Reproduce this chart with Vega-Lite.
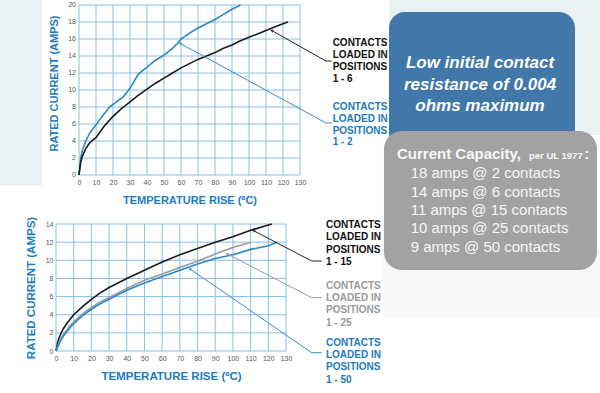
{
  "$schema": "https://vega.github.io/schema/vega-lite/v6.json",
  "width": 600,
  "height": 393,
  "padding": 0,
  "autosize": {"type": "none"},
  "background": "#ffffff",
  "config": {
    "view": {"stroke": null},
    "axis": {
      "ticks": false, "domain": false, "grid": false,
      "labelFontSize": 7, "labelColor": "#555555", "labelFont": "Liberation Sans",
      "labelPadding": 3, "labelOverlap": false, "labelFlush": false,
      "titleFont": "Liberation Sans",
      "titleFontWeight": "bold", "titleColor": "#1b7cc0", "titleFontSize": 11
    },
    "text": {"font": "Liberation Sans"}
  },
  "datasets": {
    "xgrid": [{"v": 0}, {"v": 10}, {"v": 20}, {"v": 30}, {"v": 40}, {"v": 50}, {"v": 60}, {"v": 70}, {"v": 80}, {"v": 90}, {"v": 100}, {"v": 110}, {"v": 120}, {"v": 130}],
    "ygridTop": [{"v": 0}, {"v": 2}, {"v": 4}, {"v": 6}, {"v": 8}, {"v": 10}, {"v": 12}, {"v": 14}, {"v": 16}, {"v": 18}, {"v": 20}],
    "ygridBottom": [{"v": 0}, {"v": 2}, {"v": 4}, {"v": 6}, {"v": 8}, {"v": 10}, {"v": 12}, {"v": 14}],
    "top": [
      {"series": "1 - 2", "t": 0, "amps": 0}, {"series": "1 - 2", "t": 1, "amps": 2.0}, {"series": "1 - 2", "t": 2, "amps": 2.9},
      {"series": "1 - 2", "t": 4, "amps": 4.0}, {"series": "1 - 2", "t": 6, "amps": 4.8}, {"series": "1 - 2", "t": 8, "amps": 5.4},
      {"series": "1 - 2", "t": 10, "amps": 5.9}, {"series": "1 - 2", "t": 14, "amps": 7.0}, {"series": "1 - 2", "t": 18, "amps": 8.0},
      {"series": "1 - 2", "t": 22, "amps": 8.6}, {"series": "1 - 2", "t": 26, "amps": 9.2}, {"series": "1 - 2", "t": 30, "amps": 10.2},
      {"series": "1 - 2", "t": 35, "amps": 11.9}, {"series": "1 - 2", "t": 40, "amps": 12.7}, {"series": "1 - 2", "t": 45, "amps": 13.5},
      {"series": "1 - 2", "t": 50, "amps": 14.1}, {"series": "1 - 2", "t": 55, "amps": 14.9}, {"series": "1 - 2", "t": 58, "amps": 15.5},
      {"series": "1 - 2", "t": 60, "amps": 16.0}, {"series": "1 - 2", "t": 65, "amps": 16.7}, {"series": "1 - 2", "t": 70, "amps": 17.3},
      {"series": "1 - 2", "t": 75, "amps": 17.8}, {"series": "1 - 2", "t": 80, "amps": 18.3}, {"series": "1 - 2", "t": 85, "amps": 18.9},
      {"series": "1 - 2", "t": 90, "amps": 19.5}, {"series": "1 - 2", "t": 95, "amps": 20.0},
      {"series": "1 - 6", "t": 0, "amps": 0}, {"series": "1 - 6", "t": 1, "amps": 1.5}, {"series": "1 - 6", "t": 2, "amps": 2.2},
      {"series": "1 - 6", "t": 4, "amps": 3.1}, {"series": "1 - 6", "t": 6, "amps": 3.7}, {"series": "1 - 6", "t": 8, "amps": 4.1},
      {"series": "1 - 6", "t": 10, "amps": 4.4}, {"series": "1 - 6", "t": 15, "amps": 5.8}, {"series": "1 - 6", "t": 20, "amps": 6.9},
      {"series": "1 - 6", "t": 25, "amps": 7.8}, {"series": "1 - 6", "t": 30, "amps": 8.6}, {"series": "1 - 6", "t": 35, "amps": 9.4},
      {"series": "1 - 6", "t": 40, "amps": 10.1}, {"series": "1 - 6", "t": 45, "amps": 10.8}, {"series": "1 - 6", "t": 50, "amps": 11.4},
      {"series": "1 - 6", "t": 55, "amps": 12.0}, {"series": "1 - 6", "t": 60, "amps": 12.6}, {"series": "1 - 6", "t": 65, "amps": 13.1},
      {"series": "1 - 6", "t": 70, "amps": 13.6}, {"series": "1 - 6", "t": 75, "amps": 14.0}, {"series": "1 - 6", "t": 80, "amps": 14.4},
      {"series": "1 - 6", "t": 85, "amps": 14.9}, {"series": "1 - 6", "t": 90, "amps": 15.3}, {"series": "1 - 6", "t": 95, "amps": 15.8},
      {"series": "1 - 6", "t": 100, "amps": 16.2}, {"series": "1 - 6", "t": 105, "amps": 16.6}, {"series": "1 - 6", "t": 110, "amps": 17.0},
      {"series": "1 - 6", "t": 115, "amps": 17.4}, {"series": "1 - 6", "t": 120, "amps": 17.8}, {"series": "1 - 6", "t": 123, "amps": 18.0}
    ],
    "bottom": [
      {"series": "1 - 15", "t": 0, "amps": 0}, {"series": "1 - 15", "t": 1, "amps": 1.0}, {"series": "1 - 15", "t": 2, "amps": 1.6},
      {"series": "1 - 15", "t": 4, "amps": 2.4}, {"series": "1 - 15", "t": 6, "amps": 3.0}, {"series": "1 - 15", "t": 8, "amps": 3.5},
      {"series": "1 - 15", "t": 10, "amps": 4.0}, {"series": "1 - 15", "t": 15, "amps": 4.9}, {"series": "1 - 15", "t": 20, "amps": 5.7},
      {"series": "1 - 15", "t": 25, "amps": 6.4}, {"series": "1 - 15", "t": 30, "amps": 7.0}, {"series": "1 - 15", "t": 40, "amps": 8.0},
      {"series": "1 - 15", "t": 50, "amps": 8.9}, {"series": "1 - 15", "t": 60, "amps": 9.8}, {"series": "1 - 15", "t": 70, "amps": 10.6},
      {"series": "1 - 15", "t": 80, "amps": 11.3}, {"series": "1 - 15", "t": 90, "amps": 12.0}, {"series": "1 - 15", "t": 100, "amps": 12.6},
      {"series": "1 - 15", "t": 110, "amps": 13.3}, {"series": "1 - 15", "t": 120, "amps": 13.9}, {"series": "1 - 15", "t": 122, "amps": 14.0},
      {"series": "1 - 25", "t": 0, "amps": 0}, {"series": "1 - 25", "t": 2, "amps": 1.1}, {"series": "1 - 25", "t": 4, "amps": 1.8},
      {"series": "1 - 25", "t": 6, "amps": 2.3}, {"series": "1 - 25", "t": 8, "amps": 2.8}, {"series": "1 - 25", "t": 10, "amps": 3.2},
      {"series": "1 - 25", "t": 15, "amps": 4.1}, {"series": "1 - 25", "t": 20, "amps": 4.8}, {"series": "1 - 25", "t": 25, "amps": 5.4},
      {"series": "1 - 25", "t": 30, "amps": 5.9}, {"series": "1 - 25", "t": 40, "amps": 6.9}, {"series": "1 - 25", "t": 50, "amps": 7.8},
      {"series": "1 - 25", "t": 60, "amps": 8.5}, {"series": "1 - 25", "t": 70, "amps": 9.2}, {"series": "1 - 25", "t": 80, "amps": 9.9},
      {"series": "1 - 25", "t": 90, "amps": 10.7}, {"series": "1 - 25", "t": 100, "amps": 11.4}, {"series": "1 - 25", "t": 110, "amps": 12.0},
      {"series": "1 - 50", "t": 0, "amps": 0}, {"series": "1 - 50", "t": 2, "amps": 0.9}, {"series": "1 - 50", "t": 4, "amps": 1.6},
      {"series": "1 - 50", "t": 6, "amps": 2.1}, {"series": "1 - 50", "t": 8, "amps": 2.6}, {"series": "1 - 50", "t": 10, "amps": 3.0},
      {"series": "1 - 50", "t": 15, "amps": 3.9}, {"series": "1 - 50", "t": 20, "amps": 4.6}, {"series": "1 - 50", "t": 25, "amps": 5.2},
      {"series": "1 - 50", "t": 30, "amps": 5.7}, {"series": "1 - 50", "t": 40, "amps": 6.7}, {"series": "1 - 50", "t": 50, "amps": 7.5},
      {"series": "1 - 50", "t": 60, "amps": 8.2}, {"series": "1 - 50", "t": 70, "amps": 8.9}, {"series": "1 - 50", "t": 80, "amps": 9.6},
      {"series": "1 - 50", "t": 90, "amps": 10.2}, {"series": "1 - 50", "t": 100, "amps": 10.6}, {"series": "1 - 50", "t": 110, "amps": 11.2},
      {"series": "1 - 50", "t": 120, "amps": 11.6}, {"series": "1 - 50", "t": 125, "amps": 12.0}
    ]
  },
  "layer": [
    {
      "layer": [
        {"data": {"values": [{}]}, "mark": {"type": "rect", "color": "#eaf1f4"},
         "encoding": {"x": {"datum": -46.5}, "x2": {"datum": -21.8}, "y": {"datum": 20.6}, "y2": {"datum": -1.2}}},
        {"data": {"values": [{}]}, "mark": {"type": "rect", "color": "#eaf1f3"},
         "encoding": {"x": {"datum": 182.4}, "x2": {"datum": 306.5}, "y": {"datum": 20.6}, "y2": {"datum": 4.7}}},
        {"data": {"values": [{}]}, "mark": {"type": "rect", "color": "#f6f8f9"},
         "encoding": {"x": {"datum": 178.8}, "x2": {"datum": 306.5}, "y": {"datum": -8.8}, "y2": {"datum": -16.7}}},
        {"data": {"name": "xgrid"}, "mark": {"type": "rule", "color": "#86bfe8", "strokeWidth": 1},
         "encoding": {"x": {"field": "v", "type": "quantitative"}, "y": {"datum": 0}, "y2": {"datum": 20}}},
        {"data": {"name": "ygridTop"}, "mark": {"type": "rule", "color": "#86bfe8", "strokeWidth": 1},
         "encoding": {"y": {"field": "v", "type": "quantitative"}, "x": {"datum": 0}, "x2": {"datum": 130}}},
        {"data": {"name": "ygridTop"}, "mark": {"type": "text", "align": "right", "baseline": "middle", "dx": -3, "fontSize": 7, "color": "#555555"},
         "encoding": {"y": {"field": "v", "type": "quantitative"}, "x": {"datum": 0}, "text": {"field": "v", "type": "quantitative"}}},
        {
          "data": {"name": "top"},
          "mark": {"type": "line", "strokeWidth": 1.6, "clip": true},
          "encoding": {
            "x": {"field": "t", "type": "quantitative",
                  "scale": {"domain": [0, 130], "range": [79, 300], "nice": false, "zero": false},
                  "axis": {"orient": "bottom", "values": [0,10,20,30,40,50,60,70,80,90,100,110,120,130], "offset": -218,
                           "labelOverlap": false, "title": "TEMPERATURE RISE (ºC)", "titlePadding": 9}},
            "y": {"field": "amps", "type": "quantitative",
                  "scale": {"domain": [0, 20], "range": [175, 5], "nice": false, "zero": false},
                  "axis": {"orient": "left", "values": [0,2,4,6,8,10,12,14,16,18,20], "offset": -79, "labels": false,
                           "title": "RATED CURRENT (AMPS)", "titlePadding": 20, "titleY": 83}},
            "color": {"field": "series", "type": "nominal",
                      "scale": {"domain": ["1 - 2", "1 - 6"], "range": ["#2a87c8", "#1a1a1a"]}, "legend": null}
          }
        },
        {"data": {"values": [{}]}, "mark": {"type": "rule", "color": "#222222", "strokeWidth": 1},
         "encoding": {"x": {"datum": 112.76}, "y": {"datum": 17.06}, "x2": {"datum": 145.29}, "y2": {"datum": 13.41}}},
        {"data": {"values": [{}]}, "mark": {"type": "rule", "color": "#222222", "strokeWidth": 1},
         "encoding": {"x": {"datum": 145.29}, "y": {"datum": 13.41}, "x2": {"datum": 148.65}, "y2": {"datum": 13.41}}},
        {"data": {"values": [{}]}, "mark": {"type": "rule", "color": "#3a8cc8", "strokeWidth": 1},
         "encoding": {"x": {"datum": 58.82}, "y": {"datum": 15.56}, "x2": {"datum": 145.29}, "y2": {"datum": 6.12}}},
        {"data": {"values": [{}]}, "mark": {"type": "rule", "color": "#3a8cc8", "strokeWidth": 1},
         "encoding": {"x": {"datum": 145.29}, "y": {"datum": 6.12}, "x2": {"datum": 148.65}, "y2": {"datum": 6.12}}},
        {"data": {"values": [{}]}, "mark": {"type": "point", "shape": "triangle-up", "filled": true, "size": 14, "color": "#222222", "angle": 299},
         "encoding": {"x": {"datum": 113.4}, "y": {"datum": 16.99}}},
        {"data": {"values": [{}]}, "mark": {"type": "point", "shape": "triangle-up", "filled": true, "size": 14, "color": "#3a8cc8", "angle": 299},
         "encoding": {"x": {"datum": 59.5}, "y": {"datum": 15.49}}},
        {"data": {"values": [{}]},
         "mark": {"type": "text", "text": ["CONTACTS", "LOADED IN", "POSITIONS", "1 - 6"], "align": "left", "baseline": "middle",
                  "lineHeight": 12, "fontSize": 10, "fontWeight": "bold", "color": "#111111"},
         "encoding": {"x": {"datum": 149.2}, "y": {"datum": 15.53}}},
        {"data": {"values": [{}]},
         "mark": {"type": "text", "text": ["CONTACTS", "LOADED IN", "POSITIONS", "1 - 2"], "align": "left", "baseline": "middle",
                  "lineHeight": 11.6, "fontSize": 10, "fontWeight": "bold", "color": "#1b7cc0"},
         "encoding": {"x": {"datum": 149.2}, "y": {"datum": 7.96}}},
        {"data": {"values": [{}]}, "mark": {"type": "rect", "color": "#4277a9", "cornerRadius": 16},
         "encoding": {"x": {"datum": 182.35}, "x2": {"datum": 291.76}, "y": {"datum": 19.18}, "y2": {"datum": 2.94}}},
        {"data": {"values": [{}]},
         "mark": {"type": "text", "text": ["Low initial contact", "resistance of 0.004", "ohms maximum"], "align": "center", "baseline": "middle",
                  "lineHeight": 21.3, "fontSize": 17, "fontWeight": "bold", "fontStyle": "italic", "color": "#ffffff"},
         "encoding": {"x": {"datum": 235.9}, "y": {"datum": 13.14}}},
        {"data": {"values": [{}]}, "mark": {"type": "rect", "color": "#a2a2a2", "cornerRadius": 18},
         "encoding": {"x": {"datum": 179.4}, "x2": {"datum": 304.7}, "y": {"datum": 5.18}, "y2": {"datum": -11.18}}},
        {"data": {"values": [{}]},
         "mark": {"type": "text", "text": "Current Capacity,", "align": "left", "baseline": "middle",
                  "fontSize": 15, "fontWeight": "bold", "color": "#f7f7f7"},
         "encoding": {"x": {"datum": 187.06}, "y": {"datum": 2.47}}},
        {"data": {"values": [{}]},
         "mark": {"type": "text", "text": "per UL 1977", "align": "left", "baseline": "middle",
                  "fontSize": 9.5, "fontWeight": "bold", "color": "#f7f7f7"},
         "encoding": {"x": {"datum": 264.7}, "y": {"datum": 2.24}}},
        {"data": {"values": [{}]},
         "mark": {"type": "text", "text": ":", "align": "left", "baseline": "middle",
                  "fontSize": 15, "fontWeight": "bold", "color": "#f7f7f7"},
         "encoding": {"x": {"datum": 297.2}, "y": {"datum": 2.47}}},
        {"data": {"values": [{}]},
         "mark": {"type": "text", "text": ["18 amps @ 2 contacts", "14 amps @ 6 contacts", "11 amps @ 15 contacts", "10 amps @ 25 contacts", "\u00a0\u00a09 amps @ 50 contacts"],
                  "align": "left", "baseline": "middle", "lineHeight": 18.35, "fontSize": 15, "color": "#f7f7f7"},
         "encoding": {"x": {"datum": 195.1}, "y": {"datum": 0.2}}}
      ]
    },
    {
      "layer": [
        {"data": {"name": "xgrid"}, "mark": {"type": "rule", "color": "#86bfe8", "strokeWidth": 1},
         "encoding": {"x": {"field": "v", "type": "quantitative"}, "y": {"datum": 0}, "y2": {"datum": 14}}},
        {"data": {"name": "ygridBottom"}, "mark": {"type": "rule", "color": "#86bfe8", "strokeWidth": 1},
         "encoding": {"y": {"field": "v", "type": "quantitative"}, "x": {"datum": 0}, "x2": {"datum": 130}}},
        {
          "data": {"name": "bottom"},
          "mark": {"type": "line", "strokeWidth": 1.6, "clip": true},
          "encoding": {
            "x": {"field": "t", "type": "quantitative",
                  "scale": {"domain": [0, 130], "range": [56, 286], "nice": false, "zero": false},
                  "axis": {"orient": "bottom", "values": [0,10,20,30,40,50,60,70,80,90,100,110,120,130], "offset": -42,
                           "labelOverlap": false, "title": "TEMPERATURE RISE (ºC)", "titlePadding": 9, "titleFontSize": 11.5}},
            "y": {"field": "amps", "type": "quantitative",
                  "scale": {"domain": [0, 14], "range": [351, 224], "nice": false, "zero": false},
                  "axis": {"orient": "left", "values": [0,2,4,6,8,10,12,14], "offset": -56,
                           "labelOverlap": false, "labelBound": false,
                           "title": "RATED CURRENT (AMPS)", "titlePadding": 9, "titleFontSize": 11.5}},
            "color": {"field": "series", "type": "nominal",
                      "scale": {"domain": ["1 - 15", "1 - 25", "1 - 50"], "range": ["#1a1a1a", "#9a9a9a", "#2a87c8"]}, "legend": null}
          }
        },
        {"data": {"values": [{}]}, "mark": {"type": "rule", "color": "#222222", "strokeWidth": 1},
         "encoding": {"x": {"datum": 110.96}, "y": {"datum": 13.34}, "x2": {"datum": 144.53}, "y2": {"datum": 9.92}}},
        {"data": {"values": [{}]}, "mark": {"type": "rule", "color": "#222222", "strokeWidth": 1},
         "encoding": {"x": {"datum": 144.53}, "y": {"datum": 9.92}, "x2": {"datum": 150.18}, "y2": {"datum": 9.92}}},
        {"data": {"values": [{}]}, "mark": {"type": "rule", "color": "#999999", "strokeWidth": 1},
         "encoding": {"x": {"datum": 96.09}, "y": {"datum": 10.77}, "x2": {"datum": 144.53}, "y2": {"datum": 5.88}}},
        {"data": {"values": [{}]}, "mark": {"type": "rule", "color": "#999999", "strokeWidth": 1},
         "encoding": {"x": {"datum": 144.53}, "y": {"datum": 5.88}, "x2": {"datum": 150.18}, "y2": {"datum": 5.88}}},
        {"data": {"values": [{}]}, "mark": {"type": "rule", "color": "#3a8cc8", "strokeWidth": 1},
         "encoding": {"x": {"datum": 75.18}, "y": {"datum": 9.12}, "x2": {"datum": 144.53}, "y2": {"datum": -0.19}}},
        {"data": {"values": [{}]}, "mark": {"type": "rule", "color": "#3a8cc8", "strokeWidth": 1},
         "encoding": {"x": {"datum": 144.53}, "y": {"datum": -0.19}, "x2": {"datum": 150.18}, "y2": {"datum": -0.19}}},
        {"data": {"values": [{}]}, "mark": {"type": "point", "shape": "triangle-up", "filled": true, "size": 14, "color": "#222222", "angle": 298},
         "encoding": {"x": {"datum": 111.6}, "y": {"datum": 13.27}}},
        {"data": {"values": [{}]}, "mark": {"type": "point", "shape": "triangle-up", "filled": true, "size": 14, "color": "#999999", "angle": 297},
         "encoding": {"x": {"datum": 96.8}, "y": {"datum": 10.7}}},
        {"data": {"values": [{}]}, "mark": {"type": "point", "shape": "triangle-up", "filled": true, "size": 14, "color": "#3a8cc8", "angle": 304},
         "encoding": {"x": {"datum": 75.8}, "y": {"datum": 9.03}}},
        {"data": {"values": [{}]},
         "mark": {"type": "text", "text": ["CONTACTS", "LOADED IN", "POSITIONS", "1 - 15"], "align": "left", "baseline": "middle",
                  "lineHeight": 12.3, "fontSize": 10, "fontWeight": "bold", "color": "#111111"},
         "encoding": {"x": {"datum": 152.6}, "y": {"datum": 13.89}}},
        {"data": {"values": [{}]},
         "mark": {"type": "text", "text": ["CONTACTS", "LOADED IN", "POSITIONS", "1 - 25"], "align": "left", "baseline": "middle",
                  "lineHeight": 12.3, "fontSize": 10, "fontWeight": "bold", "color": "#9a9a9a"},
         "encoding": {"x": {"datum": 152.6}, "y": {"datum": 7.2}}},
        {"data": {"values": [{}]},
         "mark": {"type": "text", "text": ["CONTACTS", "LOADED IN", "POSITIONS", "1 - 50"], "align": "left", "baseline": "middle",
                  "lineHeight": 12.3, "fontSize": 10, "fontWeight": "bold", "color": "#1b7cc0"},
         "encoding": {"x": {"datum": 152.6}, "y": {"datum": 0.915}}}
      ]
    }
  ],
  "resolve": {
    "scale": {"x": "independent", "y": "independent", "color": "independent"},
    "axis": {"x": "independent", "y": "independent"}
  }
}
